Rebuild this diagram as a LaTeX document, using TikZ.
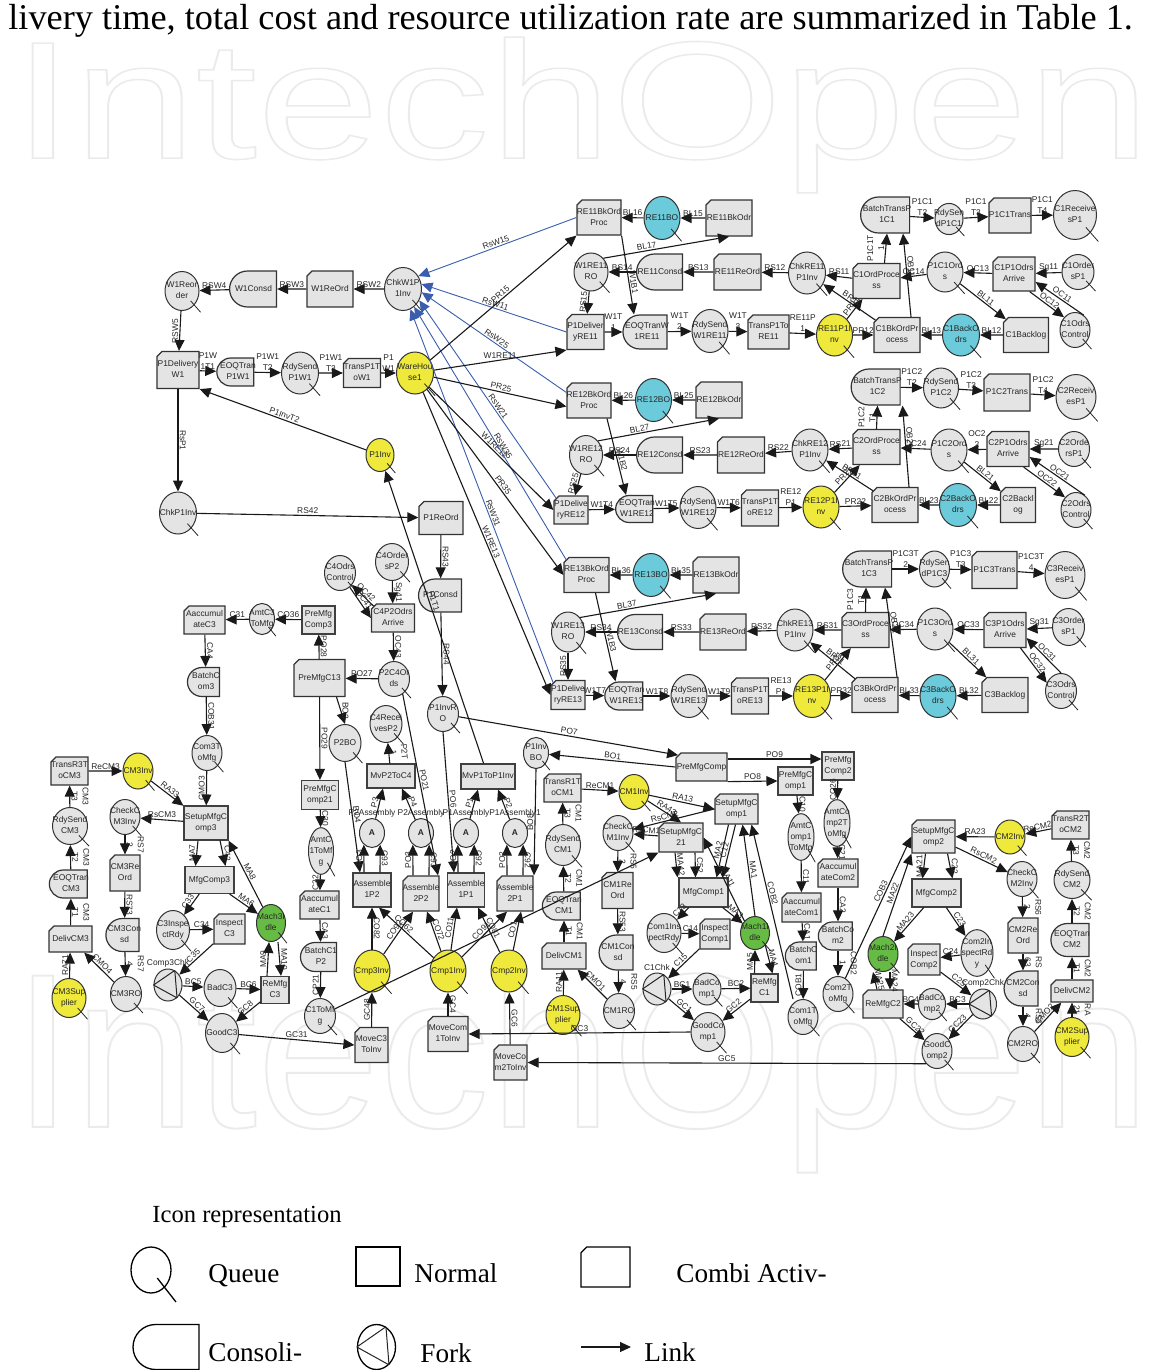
\documentclass[tikz,border=0pt]{standalone}
\usepackage{xcolor}
\usepackage{fontspec}
\setmainfont{Liberation Sans}
\newfontfamily\serifleg{Liberation Serif}
\usetikzlibrary{arrows.meta,shapes.geometric,shapes.misc,calc}
\definecolor{boxgray}{HTML}{E4E4E4}
\definecolor{invyellow}{HTML}{EEE93A}
\definecolor{botteal}{HTML}{6CCBDA}
\definecolor{idlegreen}{HTML}{66BB44}
\definecolor{rsblue}{HTML}{3A5DAE}
\definecolor{markpale}{HTML}{EBEBEB}
\newcommand{\smallfont}{\fontsize{4.2}{5.5}\selectfont}
\newcommand{\clp}[1]{\makebox[0pt]{\begin{tabular}{@{}c@{}}#1\end{tabular}}}
\newcommand{\outlined}[1]{\special{pdf:code 1 Tr 1 w}#1\special{pdf:code 0 Tr}}

\begin{document}
\begin{tikzpicture}[
    x=0.5pt, y=-0.5pt,
    font=\smallfont, text=black!85,
    size/.style 2 args={minimum width=#1*0.5pt, minimum height=#2*0.5pt, inner sep=0pt},
    queue/.style 2 args={ellipse, draw=black!80, line width=.5pt, fill=boxgray, size={#1}{#2},
        append after command={($(\tikzlastnode.center)!.7!(\tikzlastnode.south east)$) edge[draw=black!85, line width=.4pt]
            ($(\tikzlastnode.center)!1.5!(\tikzlastnode.south east)$)}},
    plainq/.style 2 args={ellipse, draw=black!80, line width=.5pt, fill=boxgray, size={#1}{#2}},
    fork/.style 2 args={plainq={#1}{#2},
        append after command={(\tikzlastnode.west) edge[draw=black!85, line width=.5pt] (\tikzlastnode.65)
            (\tikzlastnode.65) edge[draw=black!85, line width=.5pt] (\tikzlastnode.-55)
            (\tikzlastnode.-55) edge[draw=black!85, line width=.5pt] (\tikzlastnode.west)}},
    normal/.style 2 args={rectangle, draw=black!75, line width=.55pt, fill=boxgray, size={#1}{#2}},
    combi/.style 2 args={chamfered rectangle, chamfered rectangle corners=north west,
        chamfered rectangle xsep=2.5pt, chamfered rectangle ysep=2.5pt,
        draw=black!80, line width=.6pt, fill=boxgray, size={#1}{#2}},
    consol/.style 2 args={rounded rectangle, rounded rectangle right arc=none,
        draw=black!80, line width=.6pt, fill=boxgray, size={#1}{#2}},
    inv/.style={fill=invyellow},
    bord/.style={fill=botteal},
    idle/.style={fill=idlegreen},
    blank/.style={fill=white, draw=black, line width=.65pt},
    link/.style={-{Triangle[length=5.5pt,width=5pt]}, line width=.55pt, draw=black!90},
    rslink/.style={-{Triangle[length=5.5pt,width=5pt]}, line width=.45pt, draw=rsblue},
    lab/.style={font=\smallfont, inner sep=.6pt, align=center},
    vl/.style={lab, rotate=90, anchor=south},
    vr/.style={lab, rotate=-90, anchor=south},
    sl/.style={lab, sloped, above},
    ab/.style={lab, above},
    legtext/.style={font=\serifleg\fontsize{13.6}{16}\selectfont, text=black, anchor=base west, inner sep=0pt}
]
\useasboundingbox (0,0) rectangle (1154,1370);

% Page background
\node[anchor=west, inner sep=0pt, text=markpale, font=\fontsize{110}{110}\selectfont, yscale=.76, transform shape] (markup) at (12,115) {\outlined{IntechOpen}};
\node[anchor=west, inner sep=0pt, text=markpale, font=\fontsize{110}{110}\selectfont] (markdown) at (12,1070) {\outlined{IntechOpen}};
\node[anchor=base west, inner sep=0pt, font=\serifleg\fontsize{18.15}{20}\selectfont, text=black] (topline) at (8,30) {livery time, total cost and resource utilization rate are summarized in Table 1.};

% Warehouse W1
\node[queue={34}{39}] (W1Reorder) at (182,291) {\clp{W1Reor\\der}};
\node[consol={47}{36}] (W1Consd) at (253.5,289) {\clp{W1Consd}};
\node[combi={46}{36}] (W1ReOrd) at (330,289) {\clp{W1ReOrd}};
\node[queue={37}{43}] (ChkW1P1Inv) at (403,289) {\clp{ChkW1P\\1Inv}};
\node[combi={42}{37}] (P1DeliveryW1) at (178,370) {\clp{P1Delivery\\W1}};
\node[consol={37}{28}] (EOQTranP1W1) at (238,372) {\clp{EOQTran\\P1W1}};
\node[queue={37}{42}] (RdySendP1W1) at (300,373) {\clp{RdySend\\P1W1}};
\node[combi={37}{29}] (TransP1ToW1) at (362,373) {\clp{TransP1T\\oW1}};
\node[queue={37}{42}, inv] (WareHouse1) at (415,373) {\clp{WareHou\\se1}};
\node[queue={28}{33}, inv] (P1Inv) at (380,455) {\clp{P1Inv}};
\node[queue={37}{42}] (ChkP1Inv) at (178,513) {\clp{ChkP1Inv}};
\node[combi={44}{33}] (P1ReOrd) at (441,518) {\clp{P1ReOrd}};

% Retailer RE11 and customer C1
\node[combi={44}{35}] (RE11BkOrdProc) at (599,217.5) {\clp{RE11BkOrd\\Proc}};
\node[queue={36}{43}, bord] (RE11BO) at (662,218) {\clp{RE11BO}};
\node[combi={46}{36}] (RE11BkOdr) at (729,218) {\clp{RE11BkOdr}};
\node[queue={34}{38}] (W1RE11RO) at (591,272) {\clp{W1RE11\\RO}};
\node[consol={46}{36}] (RE11Consd) at (660,272) {\clp{RE11Consd}};
\node[combi={47}{36}] (RE11ReOrd) at (737.5,272) {\clp{RE11ReOrd}};
\node[queue={37}{42}] (ChkRE11P1Inv) at (807,273) {\clp{ChkRE11\\P1Inv}};
\node[combi={47}{35}] (C1OrdProcess) at (876.5,281) {\clp{C1OrdProce\\ss}};
\node[queue={36}{40}] (P1C1Ords) at (945,272) {\clp{P1C1Ord\\s}};
\node[combi={42}{34}] (C1P1OdrsArrive) at (1014,274) {\clp{C1P1Odrs\\Arrive}};
\node[queue={32}{35}] (C1OrdersP1) at (1078,272) {\clp{C1Order\\sP1}};
\node[consol={49}{36}] (BatchTransP1C1) at (887,215) {\clp{BatchTransP\\1C1}};
\node[queue={28}{28}] (RdySendP1C1) at (949,219) {\clp{RdySen\\dP1C1}};
\node[combi={42}{35}] (P1C1Trans) at (1010,215.5) {\clp{P1C1Trans}};
\node[queue={43}{49}] (C1ReceivesP1) at (1075,215) {\clp{C1Receive\\sP1}};
\node[combi={37}{35}] (P1DeliveryRE11) at (585.5,332) {\clp{P1Deliver\\yRE11}};
\node[consol={44}{34}] (EOQTranW1RE11) at (647,332) {\clp{EOQTranW\\1RE11}};
\node[queue={36}{43}] (RdySendW1RE11) at (710,331) {\clp{RdySend\\W1RE11}};
\node[combi={41}{34}] (TransP1ToRE11) at (768.5,332) {\clp{TransP1To\\RE11}};
\node[queue={36}{42}, inv] (RE11P1Inv) at (834.5,335) {\clp{RE11P1I\\nv}};
\node[combi={46}{35}] (C1BkOrdProcess) at (897,335) {\clp{C1BkOrdPr\\ocess}};
\node[queue={37}{42}, bord] (C1BackOdrs) at (961,335) {\clp{C1BackO\\drs}};
\node[combi={45}{35}] (C1Backlog) at (1026,335) {\clp{C1Backlog}};
\node[queue={30}{35}] (C1OdrsControl) at (1075,330) {\clp{C1Odrs\\Control}};

% Retailer RE12 and customer C2
\node[combi={44}{35}] (RE12BkOrdProc) at (589,400.5) {\clp{RE12BkOrd\\Proc}};
\node[queue={36}{43}, bord] (RE12BO) at (653.5,400) {\clp{RE12BO}};
\node[combi={46}{36}] (RE12BkOdr) at (719,400) {\clp{RE12BkOdr}};
\node[queue={33}{39}] (W1RE12RO) at (586,455) {\clp{W1RE12\\RO}};
\node[consol={46}{36}] (RE12Consd) at (660,455) {\clp{RE12Consd}};
\node[combi={47}{36}] (RE12ReOrd) at (741,455) {\clp{RE12ReOrd}};
\node[queue={36}{42}] (ChkRE12P1Inv) at (810,450) {\clp{ChkRE12\\P1Inv}};
\node[combi={47}{35}] (C2OrdProcess) at (876.5,447) {\clp{C2OrdProce\\ss}};
\node[queue={36}{42}] (P1C2Ords) at (949,450) {\clp{P1C2Ord\\s}};
\node[combi={42}{35}] (C2P1OdrsArrive) at (1008,449) {\clp{C2P1Odrs\\Arrive}};
\node[queue={31}{35}] (C2OrdersP1) at (1074,449) {\clp{C2Orde\\rsP1}};
\node[consol={49}{36}] (BatchTransP1C2) at (877.5,387) {\clp{BatchTransP\\1C2}};
\node[queue={35}{40}] (RdySendP1C2) at (941,388) {\clp{RdySend\\P1C2}};
\node[combi={46}{37}] (P1C2Trans) at (1007,392.5) {\clp{P1C2Trans}};
\node[queue={40}{45}] (C2ReceivesP1) at (1076,397) {\clp{C2Receiv\\esP1}};
\node[combi={34}{28}] (P1DeliveryRE12) at (571,510) {\clp{P1Delive\\ryRE12}};
\node[consol={37}{27}] (EOQTranW1RE12) at (637,509) {\clp{EOQTran\\W1RE12}};
\node[queue={36}{42}] (RdySendW1RE12) at (698,507.5) {\clp{RdySend\\W1RE12}};
\node[combi={37}{36}] (TransP1ToRE12) at (760,508) {\clp{TransP1T\\oRE12}};
\node[queue={36}{42}, inv] (RE12P1Inv) at (821,507) {\clp{RE12P1I\\nv}};
\node[combi={46}{35}] (C2BkOrdProcess) at (895,505) {\clp{C2BkOrdPr\\ocess}};
\node[queue={37}{43}, bord] (C2BackOdrs) at (958,505) {\clp{C2BackO\\drs}};
\node[combi={35}{35}] (C2Backlog) at (1018,505) {\clp{C2Backl\\og}};
\node[queue={30}{35}] (C2OdrsControl) at (1076,510) {\clp{C2Odrs\\Control}};

% Retailer RE13 and customer C3
\node[combi={45}{35}] (RE13BkOrdProc) at (586.5,575) {\clp{RE13BkOrd\\Proc}};
\node[queue={36}{43}, bord] (RE13BO) at (651,575) {\clp{RE13BO}};
\node[combi={46}{36}] (RE13BkOdr) at (716,575) {\clp{RE13BkOdr}};
\node[queue={33}{40}] (W1RE13RO) at (568,632) {\clp{W1RE13\\RO}};
\node[consol={45}{35}] (RE13Consd) at (640.5,632) {\clp{RE13Consd}};
\node[combi={46}{36}] (RE13ReOrd) at (723,632) {\clp{RE13ReOrd}};
\node[queue={36}{42}] (ChkRE13P1Inv) at (795,630) {\clp{ChkRE13\\P1Inv}};
\node[combi={47}{35}] (C3OrdProcess) at (865.5,630) {\clp{C3OrdProce\\ss}};
\node[queue={36}{42}] (P1C3Ords) at (935,629) {\clp{P1C3Ord\\s}};
\node[combi={42}{35}] (C3P1OdrsArrive) at (1005,630) {\clp{C3P1Odrs\\Arrive}};
\node[queue={32}{37}] (C3OrdersP1) at (1068.5,627) {\clp{C3Order\\sP1}};
\node[consol={49}{36}] (BatchTransP1C3) at (869,569) {\clp{BatchTransP\\1C3}};
\node[queue={30}{36}] (RdySendP1C3) at (934.5,569) {\clp{RdySen\\dP1C3}};
\node[combi={45}{37}] (P1C3Trans) at (994.5,570) {\clp{P1C3Trans}};
\node[queue={40}{47}] (C3ReceivesP1) at (1065,575) {\clp{C3Receiv\\esP1}};
\node[combi={34}{29}] (P1DeliveryRE13) at (568,695) {\clp{P1Delive\\ryRE13}};
\node[consol={38}{28}] (EOQTranW1RE13) at (626.5,696) {\clp{EOQTran\\W1RE13}};
\node[queue={36}{43}] (RdySendW1RE13) at (689,696) {\clp{RdySend\\W1RE13}};
\node[combi={37}{36}] (TransP1ToRE13) at (750,696) {\clp{TransP1T\\oRE13}};
\node[queue={37}{43}, inv] (RE13P1Inv) at (812,696) {\clp{RE13P1I\\nv}};
\node[combi={46}{35}] (C3BkOrdProcess) at (875,695) {\clp{C3BkOrdPr\\ocess}};
\node[queue={36}{43}, bord] (C3BackOdrs) at (938,696) {\clp{C3BackO\\drs}};
\node[combi={46}{35}] (C3Backlog) at (1005,695) {\clp{C3Backlog}};
\node[queue={31}{35}] (C3OdrsControl) at (1061,691) {\clp{C3Odrs\\Control}};

% Component 3 plant
\node[combi={41}{28}] (AaccumulateC3) at (204.5,620) {\clp{Aaccumul\\ateC3}};
\node[queue={25}{29}] (AmtC3ToMfg) at (262,619) {\clp{AmtC3\\ToMfg}};
\node[normal={33}{28}] (PreMfgComp3) at (318.5,620) {\clp{PreMfg\\Comp3}};
\node[consol={32}{29}] (BatchCom3) at (206,682) {\clp{BatchC\\om3}};
\node[combi={51}{37}] (PreMfgC13) at (319.5,678) {\clp{PreMfgC13}};
\node[queue={30}{35}] (Com3ToMfg) at (207,753) {\clp{Com3T\\oMfg}};
\node[normal={37}{29}] (PreMfgComp21) at (320,795) {\clp{PreMfgC\\omp21}};
\node[combi={37}{28}] (TransR3ToCM3) at (69.5,771) {\clp{TransR3T\\oCM3}};
\node[queue={30}{36}, inv] (CM3Inv) at (138,771) {\clp{CM3Inv}};
\node[queue={30}{35}] (CheckCM3Inv) at (125,817) {\clp{CheckC\\M3Inv}};
\node[normal={44}{34}] (SetupMfgComp3) at (206,823) {\clp{SetupMfgC\\omp3}};
\node[queue={35}{37}] (RdySendCM3) at (70,826) {\clp{RdySend\\CM3}};
\node[consol={38}{28}] (EOQTranCM3) at (71,884) {\clp{EOQTran\\CM3}};
\node[combi={43}{26}] (DelivCM3) at (70.5,939) {\clp{DelivCM3}};
\node[queue={34}{39}, inv] (CM3Supplier) at (69,998) {\clp{CM3Sup\\plier}};
\node[combi={30}{36}] (CM3ReOrd) at (125,873) {\clp{CM3Re\\Ord}};
\node[consol={33}{33}] (CM3Consd) at (124.5,935) {\clp{CM3Con\\sd}};
\node[queue={31}{35}] (CM3RO) at (126,994) {\clp{CM3RO}};
\node[normal={49}{27}] (MfgComp3) at (209.5,880) {\clp{MfgComp3}};
\node[queue={33}{39}] (C3InspectRdy) at (173,930) {\clp{C3Inspe\\ctRdy}};
\node[combi={31}{30}] (InspectC3) at (229.5,929) {\clp{Inspect\\C3}};
\node[queue={29}{37}, idle] (Mach3Idle) at (271,923) {\clp{Mach3I\\dle}};
\node[normal={28}{27}] (ReMfgC3) at (275,990) {\clp{ReMfg\\C3}};
\node[fork={28}{32}, label={[lab]above:Comp3Chk}] (Comp3Chk) at (168,985) {};
\node[queue={32}{37}] (BadC3) at (220,988) {\clp{BadC3}};
\node[queue={33}{39}] (GoodC3) at (222,1033) {\clp{GoodC3}};

% Component 1 feed and P2 parts
\node[combi={39}{28}] (AaccumulateC1) at (319.5,905) {\clp{Aaccumul\\ateC1}};
\node[queue={25}{29}] (AmtC1ToMfg) at (321,851) {\clp{AmtC\\1ToMf\\g}};
\node[consol={36}{29}] (BatchC1P2) at (321,957) {\clp{BatchC1\\P2}};
\node[queue={31}{35}] (C1ToMfg) at (320,1016) {\clp{C1ToMf\\g}};
\node[queue={31}{35}] (C4OdrsControl) at (340,573) {\clp{C4Odrs\\Control}};
\node[queue={33}{37}] (C4OrdersP2) at (392,562) {\clp{C4Order\\sP2}};
\node[combi={43}{28}] (C4P2OdrsArrive) at (393,618) {\clp{C4P2Odrs\\Arrive}};
\node[consol={43}{33}] (P1Consd) at (440.5,595.5) {\clp{P1Consd}};
\node[queue={31}{35}] (P2C4Ords) at (394,679) {\clp{P2C4Or\\ds}};
\node[queue={31}{35}] (P1InvRO) at (443,714) {\clp{P1InvR\\O}};
\node[queue={32}{37}] (C4ReceivesP2) at (386,724) {\clp{C4Recei\\vesP2}};
\node[queue={32}{37}] (P2BO) at (345,743) {\clp{P2BO}};
\node[normal={48}{24}] (MvP2ToC4) at (391,776) {\clp{MvP2ToC4}};
\node[normal={54}{25}] (MvP1ToP1Inv) at (488,776.5) {\clp{MvP1ToP1Inv}};
\node[queue={25}{30}] (P1InvBO) at (536,753) {\clp{P1Inv\\BO}};

% Assembly line
\node[plainq={25}{29}, label={[lab, yshift=-.5pt]above:P2Assembly}] (AsmA) at (372,833) {\textbf{A}};
\node[plainq={25}{29}, label={[lab, yshift=-.5pt]above:P2Assembly}] (AsmB) at (421,833) {\textbf{A}};
\node[plainq={25}{29}, label={[lab, yshift=-.5pt]above:P1Assembly}] (AsmC) at (466,833) {\textbf{A}};
\node[plainq={25}{29}, label={[lab, yshift=-.5pt]above:P1Assembly1}] (AsmD) at (515,833) {\textbf{A}};
\node[normal={38}{34}] (Assemble1P2) at (372,890) {\clp{Assemble\\1P2}};
\node[combi={36}{35}] (Assemble2P2) at (421,893.5) {\clp{Assemble\\2P2}};
\node[normal={37}{34}] (Assemble1P1) at (466,890) {\clp{Assemble\\1P1}};
\node[combi={36}{35}] (Assemble2P1) at (515,893.5) {\clp{Assemble\\2P1}};
\node[queue={36}{42}, inv] (Cmp3Inv) at (372,971) {\clp{Cmp3Inv}};
\node[queue={36}{42}, inv] (Cmp1Inv) at (448,971) {\clp{Cmp1Inv}};
\node[queue={36}{42}, inv] (Cmp2Inv) at (509,971) {\clp{Cmp2Inv}};
\node[combi={33}{35}] (MoveC3ToInv) at (371.5,1045) {\clp{MoveC3\\ToInv}};
\node[combi={40}{35}] (MoveCom1ToInv) at (448,1034) {\clp{MoveCom\\1ToInv}};
\node[combi={33}{35}] (MoveCom2ToInv) at (510.5,1062.5) {\clp{MoveCo\\m2ToInv}};

% Component 1 plant
\node[queue={35}{41}] (RdySendCM1) at (563,845) {\clp{RdySend\\CM1}};
\node[combi={37}{28}] (TransR1ToCM1) at (562.5,788) {\clp{TransR1T\\oCM1}};
\node[queue={30}{35}, inv] (CM1Inv) at (634,792) {\clp{CM1Inv}};
\node[queue={30}{35}] (CheckCM1Inv) at (618,833) {\clp{CheckC\\M1Inv}};
\node[combi={44}{29}] (SetupMfgComp21) at (681,837.5) {\clp{SetupMfgC\\21}};
\node[combi={43}{30}] (SetupMfgComp1) at (736.5,809) {\clp{SetupMfgC\\omp1}};
\node[combi={51}{28}] (PreMfgComp) at (701.5,767) {\clp{PreMfgComp}};
\node[normal={35}{28}] (PreMfgComp1) at (795.5,781) {\clp{PreMfgC\\omp1}};
\node[normal={32}{28}] (PreMfgComp2) at (838,766) {\clp{PreMfg\\Comp2}};
\node[queue={26}{30}] (AmtComp1ToMfg) at (801,837) {\clp{AmtC\\omp1\\ToMfg}};
\node[queue={26}{30}] (AmtComp2ToMfg) at (837,823) {\clp{AmtCo\\mp2T\\oMfg}};
\node[combi={40}{28}] (AaccumulateCom2) at (838,873) {\clp{Aaccumul\\ateCom2}};
\node[combi={39}{29}] (AaccumulateCom1) at (801.5,907.5) {\clp{Aaccumul\\ateCom1}};
\node[combi={31}{36}] (CM1ReOrd) at (617.5,890.5) {\clp{CM1Re\\Ord}};
\node[consol={38}{28}] (EOQTranCM1) at (564,906) {\clp{EOQTran\\CM1}};
\node[normal={49}{29}] (MfgComp1) at (703.5,892.5) {\clp{MfgComp1}};
\node[combi={44}{26}] (DelivCM1) at (564,956) {\clp{DelivCM1}};
\node[queue={34}{39}, inv] (CM1Supplier) at (563,1015) {\clp{CM1Sup\\plier}};
\node[consol={34}{35}] (CM1Consd) at (618,952.5) {\clp{CM1Con\\sd}};
\node[queue={31}{35}] (CM1RO) at (619,1011) {\clp{CM1RO}};
\node[queue={34}{39}] (Com1InspectRdy) at (664,933) {\clp{Com1Ins\\pectRdy}};
\node[combi={30}{30}] (InspectComp1) at (715,934) {\clp{Inspect\\Comp1}};
\node[queue={29}{33}, idle] (Mach1Idle) at (755,933) {\clp{Mach1I\\dle}};
\node[fork={28}{32}, label={[lab]above:C1Chk}] (C1Chk) at (657,989) {};
\node[queue={28}{32}] (BadComp1) at (707,989) {\clp{BadCo\\mp1}};
\node[normal={27}{28}] (ReMfgC1) at (764.5,988) {\clp{ReMfg\\C1}};
\node[queue={34}{39}] (GoodComp1) at (708,1032) {\clp{GoodCo\\mp1}};
\node[consol={31}{28}] (BatchCom1) at (803.5,956) {\clp{BatchC\\om1}};
\node[queue={30}{35}] (Com1ToMfg) at (803,1017) {\clp{Com1T\\oMfg}};
\node[consol={34}{28}] (BatchCom2) at (838,936) {\clp{BatchCo\\m2}};
\node[queue={30}{35}] (Com2ToMfg) at (838,994) {\clp{Com2T\\oMfg}};

% Component 2 plant
\node[combi={43}{33}] (SetupMfgComp2) at (933.5,836.5) {\clp{SetupMfgC\\omp2}};
\node[queue={30}{34}, inv] (CM2Inv) at (1010,837) {\clp{CM2Inv}};
\node[combi={37}{28}] (TransR2ToCM2) at (1070.5,825) {\clp{TransR2T\\oCM2}};
\node[normal={49}{28}] (MfgComp2) at (936.5,893) {\clp{MfgComp2}};
\node[queue={30}{35}] (CheckCM2Inv) at (1022,879) {\clp{CheckC\\M2Inv}};
\node[queue={36}{37}] (RdySendCM2) at (1072,880) {\clp{RdySend\\CM2}};
\node[queue={32}{35}] (Com2InspectRdy) at (977,953) {\clp{Com2In\\spectRd\\y}};
\node[combi={32}{31}] (InspectComp2) at (924,959.5) {\clp{Inspect\\Comp2}};
\node[queue={30}{35}, idle] (Mach2Idle) at (883,954) {\clp{Mach2I\\dle}};
\node[combi={30}{35}] (CM2ReOrd) at (1023,935.5) {\clp{CM2Re\\Ord}};
\node[consol={38}{33}] (EOQTranCM2) at (1072,940) {\clp{EOQTran\\CM2}};
\node[combi={42}{22}] (DelivCM2) at (1072,991) {\clp{DelivCM2}};
\node[consol={34}{35}] (CM2Consd) at (1023,988.5) {\clp{CM2Con\\sd}};
\node[fork={27}{30}, label={[lab]above:Comp2Chk}] (Comp2Chk) at (983,1004) {};
\node[queue={27}{30}] (BadComp2) at (932,1004) {\clp{BadCo\\mp2}};
\node[combi={40}{28}] (ReMfgC2) at (883,1004) {\clp{ReMfgC2}};
\node[queue={30}{35}] (GoodComp2) at (937,1051) {\clp{GoodC\\omp2}};
\node[queue={31}{35}] (CM2RO) at (1023,1044) {\clp{CM2RO}};
\node[queue={34}{39}, inv] (CM2Supplier) at (1072,1037) {\clp{CM2Sup\\plier}};

% Warehouse links
\draw[link] (ChkW1P1Inv) -- node[ab] {RSW2} (W1ReOrd);
\draw[link] (W1ReOrd) -- node[ab] {RSW3} (W1Consd);
\draw[link] (W1Consd) -- node[ab] {RSW4} (W1Reorder);
\draw[link] (W1Reorder) -- node[vl] {RSW5} (P1DeliveryW1);
\draw[link] (P1DeliveryW1) -- node[ab] {P1W\\1T1} (EOQTranP1W1);
\draw[link] (EOQTranP1W1) -- node[ab] {P1W1\\T2} (RdySendP1W1);
\draw[link] (RdySendP1W1) -- node[ab] {P1W1\\T3} (TransP1ToW1);
\draw[link] (TransP1ToW1) -- node[ab] {P1\\W1} (WareHouse1);
\draw[link] (P1DeliveryW1) -- node[vr] {RsP1} (ChkP1Inv);
\draw[link] (P1Inv) -- node[sl] {P1InvT2} (P1DeliveryW1.south east);
\draw[link] (ChkP1Inv) -- node[ab] {RS42} (P1ReOrd);
\draw[link] (P1ReOrd) -- node[vr] {RS43} (P1Consd);
\draw[link] (P1Consd) -- node[vr] {RS44} (P1InvRO);
\draw[link] (MvP1ToP1Inv) -- node[sl, pos=.55] {P1T1} (P1Inv);

% Replenishment signals
\draw[rslink] (RE11BkOrdProc.west) -- node[sl] {RsW15} (ChkW1P1Inv.40);
\draw[rslink] (P1DeliveryRE11.west) -- node[sl] {RsW11} (ChkW1P1Inv.15);
\draw[rslink] ([yshift=4pt]RE12BkOrdProc.west) -- node[sl] {RsW25} (ChkW1P1Inv.-10);
\draw[rslink] (P1DeliveryRE12.north west) -- node[sl, pos=.45] {RsW21} (ChkW1P1Inv.-35);
\draw[rslink] (RE13BkOrdProc.north west) -- node[sl, pos=.44] {RsW35} (ChkW1P1Inv.-58);
\draw[rslink] (P1DeliveryRE13.north west) -- node[sl, pos=.45] {RsW31} (ChkW1P1Inv.-70);

% Shipments out of the warehouse
\draw[link] (WareHouse1) -- node[sl] {PR15} (RE11BkOrdProc.south west);
\draw[link] (WareHouse1) -- node[ab] {W1RE11} (P1DeliveryRE11.south west);
\draw[link] (WareHouse1) -- node[sl] {PR25} ([yshift=-3pt]RE12BkOrdProc.west);
\draw[link] (WareHouse1) -- node[sl] {W1RE12} (P1DeliveryRE12.west);
\draw[link] (WareHouse1) -- node[sl, pos=.53] {PR35} (RE13BkOrdProc.west);
\draw[link] (WareHouse1) -- node[sl] {W1RE13} (P1DeliveryRE13.west);

% RE11 row
\draw[link] (RE11BkOdr) -- node[ab] {BL15} (RE11BO);
\draw[link] (RE11BO) -- node[ab] {BL16} (RE11BkOrdProc);
\draw[link] (W1RE11RO.north east) -- node[sl, pos=.35] {BL17} (RE11BkOdr.south);
\draw[link] (RE11BkOrdProc.south east) -- node[sl, pos=.6] {W1B1} ([xshift=-6.5pt]EOQTranW1RE11.north);
\draw[link] (ChkRE11P1Inv) -- node[ab] {RS12} (RE11ReOrd);
\draw[link] (RE11ReOrd) -- node[ab] {BS13} (RE11Consd);
\draw[link] (RE11Consd) -- node[ab] {BS14} (W1RE11RO);
\draw[link] (W1RE11RO) -- node[sl] {RS15} (P1DeliveryRE11);
\draw[link] (P1DeliveryRE11) -- node[ab] {W1T\\1} (EOQTranW1RE11);
\draw[link] (EOQTranW1RE11) -- node[ab] {W1T\\2} (RdySendW1RE11);
\draw[link] (RdySendW1RE11) -- node[ab] {W1T\\3} (TransP1ToRE11);
\draw[link] (TransP1ToRE11) -- node[ab] {RE11P\\1} (RE11P1Inv);
\draw[link] (RE11P1Inv) -- node[ab] {PR12} (C1BkOrdProcess);
\draw[link] (RE11P1Inv) -- node[sl] {PR11} (C1OrdProcess);
\draw[link] (C1OrdProcess) -- node[ab] {RS11} (ChkRE11P1Inv);
\draw[link] (C1BkOrdProcess) -- node[sl] {BR11} (ChkRE11P1Inv);
\draw[link] (C1BackOdrs) -- node[ab] {BL13} (C1BkOrdProcess);
\draw[link] (C1Backlog) -- node[ab] {BL12} (C1BackOdrs);
\draw[link] (P1C1Ords) -- node[sl] {BL11} (C1Backlog);
\draw[link] (C1P1OdrsArrive) -- node[ab] {OC13} (P1C1Ords);
\draw[link] (P1C1Ords) -- node[ab] {OC14} (C1OrdProcess);
\draw[link] (C1OrdersP1) -- node[ab] {Sg11} (C1P1OdrsArrive);
\draw[link] (C1OdrsControl.60) -- node[sl] {OC11} ([yshift=-4pt]C1P1OdrsArrive.east);
\draw[link] ([xshift=-3pt]C1P1OdrsArrive.south east) -- node[sl] {OC12} (C1OdrsControl.north west);
\draw[link] ([xshift=4pt]C1OrdProcess.north) -- node[vl] {P1C1T\\1} (BatchTransP1C1.south);
\draw[link] ([xshift=7pt]C1BkOrdProcess.north) -- node[sl, pos=.6] {OB11} ([xshift=8pt]BatchTransP1C1.south);
\draw[link] (BatchTransP1C1) -- node[ab] {P1C1\\T2} (RdySendP1C1);
\draw[link] (RdySendP1C1) -- node[ab] {P1C1\\T3} (P1C1Trans);
\draw[link] (P1C1Trans) -- node[ab] {P1C1\\T4} (C1ReceivesP1);

% RE12 row
\draw[link] (RE12BkOdr) -- node[ab] {BL25} (RE12BO);
\draw[link] (RE12BO) -- node[ab] {BL26} (RE12BkOrdProc);
\draw[link] (W1RE12RO.north east) -- node[sl, pos=.35] {BL27} (RE12BkOdr.south);
\draw[link] ([xshift=9pt]RE12BkOrdProc.south) -- node[sl, pos=.55] {W1B2} ([xshift=-5.5pt]EOQTranW1RE12.north);
\draw[link] (ChkRE12P1Inv) -- node[ab] {RS22} (RE12ReOrd);
\draw[link] (RE12ReOrd) -- node[ab] {RS23} (RE12Consd);
\draw[link] (RE12Consd) -- node[ab] {RS24} (W1RE12RO);
\draw[link] (W1RE12RO) -- node[sl] {RS25} (P1DeliveryRE12);
\draw[link] (P1DeliveryRE12) -- node[ab] {W1T4} (EOQTranW1RE12);
\draw[link] (EOQTranW1RE12) -- node[ab] {W1T5} (RdySendW1RE12);
\draw[link] (RdySendW1RE12) -- node[ab] {W1T6} (TransP1ToRE12);
\draw[link] (TransP1ToRE12) -- node[ab] {RE12\\P1} (RE12P1Inv);
\draw[link] (RE12P1Inv) -- node[ab] {PR22} (C2BkOrdProcess);
\draw[link] (RE12P1Inv) -- node[sl] {PR21} (C2OrdProcess);
\draw[link] (C2OrdProcess) -- node[sl] {RS21} (ChkRE12P1Inv);
\draw[link] (C2BkOrdProcess) -- node[sl] {BR21} (ChkRE12P1Inv);
\draw[link] (C2BackOdrs) -- node[ab] {BL23} (C2BkOrdProcess);
\draw[link] (C2Backlog) -- node[ab] {BL22} (C2BackOdrs);
\draw[link] (P1C2Ords) -- node[sl] {BL21} (C2Backlog);
\draw[link] (C2P1OdrsArrive) -- node[ab] {OC2\\2} (P1C2Ords);
\draw[link] (P1C2Ords) -- node[ab] {OC24} (C2OrdProcess);
\draw[link] (C2OrdersP1) -- node[ab] {Sg21} (C2P1OdrsArrive);
\draw[link] (C2OdrsControl.60) -- node[sl] {OC21} ([yshift=-4pt]C2P1OdrsArrive.east);
\draw[link] ([xshift=-3pt]C2P1OdrsArrive.south east) -- node[sl] {OC22} (C2OdrsControl.north west);
\draw[link] (C2OrdProcess.north) -- node[vl] {P1C2\\T1} (BatchTransP1C2.south);
\draw[link] ([xshift=7pt]C2BkOrdProcess.north) -- node[sl, pos=.6] {OB21} ([xshift=12.5pt]BatchTransP1C2.south);
\draw[link] (BatchTransP1C2) -- node[ab] {P1C2\\T2} (RdySendP1C2);
\draw[link] (RdySendP1C2) -- node[ab] {P1C2\\T3} (P1C2Trans);
\draw[link] (P1C2Trans) -- node[ab] {P1C2\\T4} (C2ReceivesP1);

% RE13 row
\draw[link] (RE13BkOdr) -- node[ab] {BL35} (RE13BO);
\draw[link] (RE13BO) -- node[ab] {BL36} (RE13BkOrdProc);
\draw[link] (W1RE13RO.north east) -- node[sl, pos=.35] {BL37} (RE13BkOdr.south);
\draw[link] ([xshift=4.5pt]RE13BkOrdProc.south) -- node[sl, pos=.55] {W1B3} ([xshift=-5.5pt]EOQTranW1RE13.north);
\draw[link] (ChkRE13P1Inv) -- node[ab] {RS32} (RE13ReOrd);
\draw[link] (RE13ReOrd) -- node[ab] {RS33} (RE13Consd);
\draw[link] (RE13Consd) -- node[ab] {RS34} (W1RE13RO);
\draw[link] (W1RE13RO) -- node[vl] {RS35} (P1DeliveryRE13);
\draw[link] (P1DeliveryRE13) -- node[ab] {W1T7} (EOQTranW1RE13);
\draw[link] (EOQTranW1RE13) -- node[ab] {W1T8} (RdySendW1RE13);
\draw[link] (RdySendW1RE13) -- node[ab] {W1T9} (TransP1ToRE13);
\draw[link] (TransP1ToRE13) -- node[ab] {RE13\\P1} (RE13P1Inv);
\draw[link] (RE13P1Inv) -- node[ab] {PR32} (C3BkOrdProcess);
\draw[link] (RE13P1Inv) -- node[sl] {PR31} (C3OrdProcess);
\draw[link] (C3OrdProcess) -- node[ab] {RS31} (ChkRE13P1Inv);
\draw[link] (C3BkOrdProcess) -- node[sl] {BR31} (ChkRE13P1Inv);
\draw[link] (C3BackOdrs) -- node[ab] {BL33} (C3BkOrdProcess);
\draw[link] (C3Backlog) -- node[ab] {BL32} (C3BackOdrs);
\draw[link] (P1C3Ords) -- node[sl] {BL31} (C3Backlog);
\draw[link] (C3P1OdrsArrive) -- node[ab] {OC33} (P1C3Ords);
\draw[link] (P1C3Ords) -- node[ab] {OC34} (C3OrdProcess);
\draw[link] (C3OrdersP1) -- node[ab] {Sg31} (C3P1OdrsArrive);
\draw[link] (C3OdrsControl.north) -- node[sl] {OC31} ([yshift=-4pt]C3P1OdrsArrive.east);
\draw[link] ([xshift=-3pt]C3P1OdrsArrive.south east) -- node[sl] {OC32} (C3OdrsControl.150);
\draw[link] (C3OrdProcess.north) -- node[vl] {P1C3\\T1} ([xshift=-1.5pt]BatchTransP1C3.south);
\draw[link] ([xshift=11pt]C3BkOrdProcess.north) -- node[sl, pos=.6] {OB31} ([xshift=8pt]BatchTransP1C3.south);
\draw[link] (BatchTransP1C3) -- node[ab] {P1C3T\\2} (RdySendP1C3);
\draw[link] (RdySendP1C3) -- node[ab] {P1C3\\T3} (P1C3Trans);
\draw[link] (P1C3Trans) -- node[ab] {P1C3T\\4} (C3ReceivesP1);

% Component 3 links
\draw[link] (PreMfgC13) -- node[vr] {PO28} (PreMfgComp3);
\draw[link] (PreMfgComp3) -- node[ab] {CO36} (AmtC3ToMfg);
\draw[link] (AmtC3ToMfg) -- node[ab] {C31} (AaccumulateC3);
\draw[link] (AaccumulateC3) -- node[vr] {CA4} (BatchCom3);
\draw[link] (BatchCom3) -- node[vr] {COB31} (Com3ToMfg);
\draw[link] (Com3ToMfg) -- node[vl] {CMO3} (SetupMfgComp3);
\draw[link] (P2C4Ords) -- node[ab] {PO27} (PreMfgC13);
\draw[link] ([xshift=8.5pt]PreMfgC13.south) -- node[vr] {BO3} (P2BO.north);
\draw[link] (PreMfgC13) -- node[vr] {PO29} (PreMfgComp21);
\draw[link] (PreMfgComp21) -- node[vr] {C30} (AmtC1ToMfg);
\draw[link] (AmtC1ToMfg) -- node[vl] {C32} (AaccumulateC1);
\draw[link] (AaccumulateC1) -- node[vr] {CA3} (BatchC1P2);
\draw[link] (BatchC1P2) -- node[vl] {CP21} (C1ToMfg);
\draw[link] (C1ToMfg) -- (SetupMfgComp21.south west);
\draw[link] ([xshift=-4pt]SetupMfgComp3.south) -- node[vl] {MA7} ([xshift=-7pt]MfgComp3.north);
\draw[link] ([xshift=7pt]SetupMfgComp3.south) -- node[vr] {C42} ([xshift=8pt]MfgComp3.north);
\draw[link] (MfgComp3) -- node[sl] {MA6} (Mach3Idle);
\draw[link] (Mach3Idle) -- node[sl] {MA8} (SetupMfgComp3.south east);
\draw[link] (CM3Inv) -- node[sl] {RA33} (SetupMfgComp3);
\draw[link] (SetupMfgComp3) -- node[ab] {RsCM3} (CheckCM3Inv);
\draw[link] (CheckCM3Inv) -- node[vr] {RS7\\2} (CM3ReOrd);
\draw[link] (CM3ReOrd) -- node[vr] {RS73} (CM3Consd);
\draw[link] (CM3Consd) -- node[vr] {RS7\\4} (CM3RO);
\draw[link] (CM3RO) -- node[sl] {CMO4} (DelivCM3);
\draw[link] (CM3Supplier) -- node[vl] {RA71} (DelivCM3);
\draw[link] (DelivCM3) -- node[vr] {CM3\\T1} (EOQTranCM3);
\draw[link] (EOQTranCM3) -- node[vr] {CM3\\T2} (RdySendCM3);
\draw[link] (RdySendCM3) -- node[vr] {CM3\\T3} (TransR3ToCM3);
\draw[link] (TransR3ToCM3) -- node[ab] {ReCM3} (CM3Inv);
\draw[link] (MfgComp3) -- node[sl] {C33} (C3InspectRdy);
\draw[link] (C3InspectRdy) -- node[ab] {C34} (InspectC3);
\draw[link] (InspectC3) -- node[sl] {C35} (Comp3Chk);
\draw[link] (Comp3Chk) -- node[sl] {BC5} (BadC3);
\draw[link] (BadC3) -- node[ab] {BC6} (ReMfgC3);
\draw[link] (Comp3Chk) -- node[sl] {GC7} (GoodC3);
\draw[link] (ReMfgC3) -- node[sl] {GC8} (GoodC3);
\draw[link] ([xshift=-4pt]ReMfgC3.north) -- node[vl] {MA9} ([xshift=-1pt]Mach3Idle.south);
\draw[link] ([xshift=3.5pt]Mach3Idle.south) -- node[vr] {MA10} ([xshift=3pt]ReMfgC3.north);
\draw[link] (GoodC3) -- node[ab] {GC31} (MoveC3ToInv.west);
\draw[link] (MoveC3ToInv) -- node[vl] {GC48} (Cmp3Inv);

% P2 feed links
\draw[link] (C4OrdersP2) -- node[vr] {Sg41} (C4P2OdrsArrive);
\draw[link] (C4P2OdrsArrive.north west) -- node[sl] {OC42} (C4OdrsControl);
\draw[link] (C4OdrsControl) -- node[sl] {OC41} (C4P2OdrsArrive.west);
\draw[link] (C4P2OdrsArrive) -- node[vr] {OC43} (P2C4Ords);
\draw[link] (MvP2ToC4) -- node[sl] {P2T\\1} (C4ReceivesP2);
\draw[link] (P2C4Ords.-60) -- node[sl, pos=.48] {PO21} ([xshift=8.5pt]Assemble2P2.north);
\draw[link] (P2BO.south) -- node[sl, pos=.48] {BO4} ([xshift=-6pt]Assemble1P2.north);
\draw[link] (P1InvRO.south) -- node[sl, pos=.48] {PO6} ([xshift=-6pt]Assemble1P1.north);
\draw[link] (P1InvBO.south) -- node[vl, pos=.5] {BO8} ([xshift=9.5pt]Assemble2P1.north);
\draw[link] (P1InvRO) -- node[sl] {PO7} (PreMfgComp.north west);
\draw[link] (PreMfgComp.west) -- node[sl] {BO1} (P1InvBO);
\draw[link] ([yshift=4pt]PreMfgComp.east) -- node[ab] {PO9} ([yshift=3.5pt]PreMfgComp2.west);
\draw[link] (PreMfgComp.south east) -- node[ab] {PO8} (PreMfgComp1.west);

% Assembly links
\draw[link] (AsmA) -- node[sl] {P3} ([xshift=-4pt]MvP2ToC4.south);
\draw[link] (AsmB) -- node[sl] {P4} ([xshift=5.5pt]MvP2ToC4.south);
\draw[link] (AsmC) -- node[sl] {P1} ([xshift=-5pt]MvP1ToP1Inv.south);
\draw[link] (AsmD) -- node[sl] {P2} ([xshift=5pt]MvP1ToP1Inv.south);
\draw[link] ([xshift=-4pt]Assemble1P2.north) -- node[vl] {PO3} (AsmA.-125);
\draw[link] ([xshift=4pt]Assemble1P2.north) -- node[vr] {C93} (AsmA.-55);
\draw[link] ([xshift=-4pt]Assemble2P2.north) -- node[vl] {PO3} (AsmB.-125);
\draw[link] ([xshift=4pt]Assemble2P2.north) -- node[vr] {C93} (AsmB.-55);
\draw[link] ([xshift=-4pt]Assemble1P1.north) -- node[vl] {PO2} (AsmC.-125);
\draw[link] ([xshift=4pt]Assemble1P1.north) -- node[vr] {C92} (AsmC.-55);
\draw[link] ([xshift=-4pt]Assemble2P1.north) -- node[vl] {PO2} (AsmD.-125);
\draw[link] ([xshift=4pt]Assemble2P1.north) -- node[vr] {C92} (AsmD.-55);
\draw[link] (Cmp3Inv) -- node[vr] {CO82} (Assemble1P2);
\draw[link] (Cmp3Inv) -- node[sl] {CO92} ([xshift=-4pt]Assemble2P2.south);
\draw[link] (Cmp1Inv) -- node[sl, pos=.6] {CO62} ([xshift=3.5pt]Assemble1P2.south);
\draw[link] (Cmp1Inv) -- node[sl] {CO72} ([xshift=3pt]Assemble2P2.south);
\draw[link] (Cmp1Inv) -- node[sl] {CO11} ([xshift=-4.5pt]Assemble1P1.south);
\draw[link] (Cmp1Inv) -- node[sl] {CO91} ([xshift=-4pt]Assemble2P1.south);
\draw[link] (Cmp2Inv) -- node[sl] {CO81} ([xshift=6pt]Assemble1P1.south);
\draw[link] (Cmp2Inv) -- node[sl] {CO1} ([xshift=3pt]Assemble2P1.south);
\draw[link] (MoveCom1ToInv) -- node[vr] {GC4} (Cmp1Inv);
\draw[link] (MoveCom2ToInv) -- node[vr] {GC6} (Cmp2Inv);
\draw[link] (GoodComp1.west) -- node[ab] {GC3} (MoveCom1ToInv.east);
\draw[link] (GoodComp2.south west) -- node[ab] {GC5} (MoveCom2ToInv.east);

% Component 1 links
\draw[link] (CM1Supplier) -- node[vl] {RA11} (DelivCM1);
\draw[link] (DelivCM1) -- node[vr] {CM1\\T1} (EOQTranCM1);
\draw[link] (EOQTranCM1) -- node[vr] {CM1\\T2} (RdySendCM1);
\draw[link] (RdySendCM1) -- node[vr] {CM1\\T3} (TransR1ToCM1);
\draw[link] (TransR1ToCM1) -- node[ab] {ReCM1} (CM1Inv);
\draw[link] (CM1Inv) -- node[sl] {RA13} (SetupMfgComp1.west);
\draw[link] (CM1Inv) -- node[sl] {RA43} (SetupMfgComp21.north);
\draw[link] (SetupMfgComp1.west) -- node[sl, pos=.6] {RsCM2} (CheckCM1Inv);
\draw[link] (SetupMfgComp21) -- node[sl] {RsCM1} (CheckCM1Inv);
\draw[link] (CheckCM1Inv) -- node[vr] {RS5\\2} (CM1ReOrd);
\draw[link] (CM1ReOrd) -- node[vr] {RS53} (CM1Consd);
\draw[link] (CM1Consd) -- node[vr] {RS5\\4} (CM1RO);
\draw[link] (CM1RO) -- node[sl] {CMO1} (DelivCM1);
\draw[link] ([xshift=-4pt]SetupMfgComp1.south) -- node[sl] {MA2} ([xshift=6.5pt]MfgComp1.north);
\draw[link] ([xshift=-.5pt]SetupMfgComp1.south) -- node[sl] {C12} ([xshift=9.5pt]MfgComp1.north);
\draw[link] ([xshift=-3pt]SetupMfgComp21.south) -- node[sl] {MA42} ([xshift=-13pt]MfgComp1.north);
\draw[link] ([xshift=7pt]SetupMfgComp21.south) -- node[vr] {C52} ([xshift=-4pt]MfgComp1.north);
\draw[link] (MfgComp1) -- node[sl] {MA3} (Mach1Idle);
\draw[link] (Mach1Idle.north west) -- node[sl] {MA11} (SetupMfgComp21.east);
\draw[link] (Mach1Idle.north) -- node[sl] {MA1} ([xshift=3pt]SetupMfgComp1.south);
\draw[link] ([xshift=-5pt]ReMfgC1.north) -- node[vl] {MA5} (Mach1Idle.south);
\draw[link] (Mach1Idle.-50) -- node[sl] {MA4} ([xshift=4pt]ReMfgC1.north);
\draw[link] (MfgComp1) -- node[sl] {C13} (Com1InspectRdy);
\draw[link] (Com1InspectRdy) -- node[ab] {C14} (InspectComp1);
\draw[link] (InspectComp1) -- node[sl] {C15} (C1Chk);
\draw[link] (C1Chk) -- node[ab] {BC1} (BadComp1);
\draw[link] (BadComp1) -- node[ab] {BC2} (ReMfgC1);
\draw[link] (C1Chk) -- node[sl] {GC1} (GoodComp1);
\draw[link] (ReMfgC1) -- node[sl] {GC2} (GoodComp1);
\draw[link] (PreMfgComp1) -- node[vr] {C10} (AmtComp1ToMfg);
\draw[link] (AmtComp1ToMfg) -- node[vr] {C11} (AaccumulateCom1);
\draw[link] (AaccumulateCom1) -- node[vr] {CA1} (BatchCom1);
\draw[link] (BatchCom1) -- node[vl] {COB1} (Com1ToMfg);
\draw[link] ([xshift=-5pt]Com1ToMfg.north) -- node[sl, pos=.6] {COB2} ([xshift=7.5pt]SetupMfgComp1.south);
\draw[link] (PreMfgComp2) -- node[vl] {CO26} (AmtComp2ToMfg);
\draw[link] (AmtComp2ToMfg) -- node[vr] {C21} (AaccumulateCom2);
\draw[link] (AaccumulateCom2) -- node[vr] {CA2} (BatchCom2);
\draw[link] (BatchCom2) -- node[vr] {COB2\\1} (Com2ToMfg);

% Component 2 links
\draw[link] (Com2ToMfg) -- node[sl, pos=.6] {COB3} (SetupMfgComp2.west);
\draw[link] (Mach2Idle.north) -- node[sl] {MA22} (SetupMfgComp2.south west);
\draw[link] (CM2Inv) -- node[ab] {RA23} (SetupMfgComp2);
\draw[link] (SetupMfgComp2) -- node[sl] {RsCM2} (CheckCM2Inv);
\draw[link] (CheckCM2Inv) -- node[vr] {RS6\\2} (CM2ReOrd);
\draw[link] (CM2ReOrd) -- node[vr] {RS\\63} (CM2Consd);
\draw[link] (CM2Consd) -- node[vr] {RS6\\4} (CM2RO);
\draw[link] (CM2RO) -- node[sl] {CMO2} (DelivCM2);
\draw[link] (CM2Supplier) -- node[vr] {RA\\21} (DelivCM2);
\draw[link] (DelivCM2) -- node[vr] {CM2\\T1} (EOQTranCM2);
\draw[link] (EOQTranCM2) -- node[vr] {CM2\\T2} (RdySendCM2);
\draw[link] (RdySendCM2) -- node[vr] {CM2\\T3} (TransR2ToCM2);
\draw[link] (TransR2ToCM2) -- node[sl] {ReCM2} (CM2Inv);
\draw[link] ([xshift=-4pt]SetupMfgComp2.south) -- node[vl] {MA21} ([xshift=-7pt]MfgComp2.north);
\draw[link] ([xshift=7pt]SetupMfgComp2.south) -- node[vr] {C22} ([xshift=8pt]MfgComp2.north);
\draw[link] (MfgComp2) -- node[sl] {MA23} (Mach2Idle);
\draw[link] (MfgComp2) -- node[sl] {C23} (Com2InspectRdy);
\draw[link] (Com2InspectRdy) -- node[ab] {C24} (InspectComp2);
\draw[link] (InspectComp2) -- node[sl] {C25} (Comp2Chk);
\draw[link] (Comp2Chk) -- node[ab] {BC3} (BadComp2);
\draw[link] (BadComp2) -- node[ab] {BC4} (ReMfgC2);
\draw[link] (Comp2Chk) -- node[sl] {GC23} (GoodComp2);
\draw[link] (ReMfgC2) -- node[sl] {GC22} (GoodComp2);
\draw[link] ([xshift=-3pt]ReMfgC2.north) -- node[sl] {MA25} ([xshift=-5pt]Mach2Idle.south);
\draw[link] ([xshift=3.5pt]Mach2Idle.south) -- node[vr] {MA24} ([xshift=3.5pt]ReMfgC2.north);

% Legend
\node[legtext, font=\serifleg\fontsize{12.3}{14}\selectfont] (legtitle) at (152,1222) {Icon representation};
\node[plainq={40}{46}, blank] (legqueue) at (151,1270) {};
\coordinate (legtail) at (176,1302);
\draw[line width=.65pt] ($(legqueue.center)!.25!(legtail)$) -- (legtail);
\node[legtext] (legqueuetext) at (208,1282) {Queue};
\node[normal={44}{39}, blank] (legnormal) at (378,1266.5) {};
\node[legtext] (legnormaltext) at (414,1282) {Normal};
\node[combi={49}{40}, blank, chamfered rectangle xsep=5pt, chamfered rectangle ysep=5pt] (legcombi) at (605.5,1267) {\phantom{A}};
\node[legtext] (legcombitext) at (676,1282) {Combi Activ-};
\node[consol={66}{45}, blank] (legconsol) at (166,1347) {};
\node[legtext] (legconsoltext) at (208,1361) {Consoli-};
\node[fork={38}{45}, blank] (legfork) at (376.5,1347) {};
\node[legtext] (legforktext) at (420,1362) {Fork};
\coordinate (linkstart) at (581,1347);
\coordinate (linkend) at (631,1347);
\draw[link] (linkstart) -- (linkend);
\node[legtext] (leglinktext) at (644,1361) {Link};
\end{tikzpicture}
\end{document}
